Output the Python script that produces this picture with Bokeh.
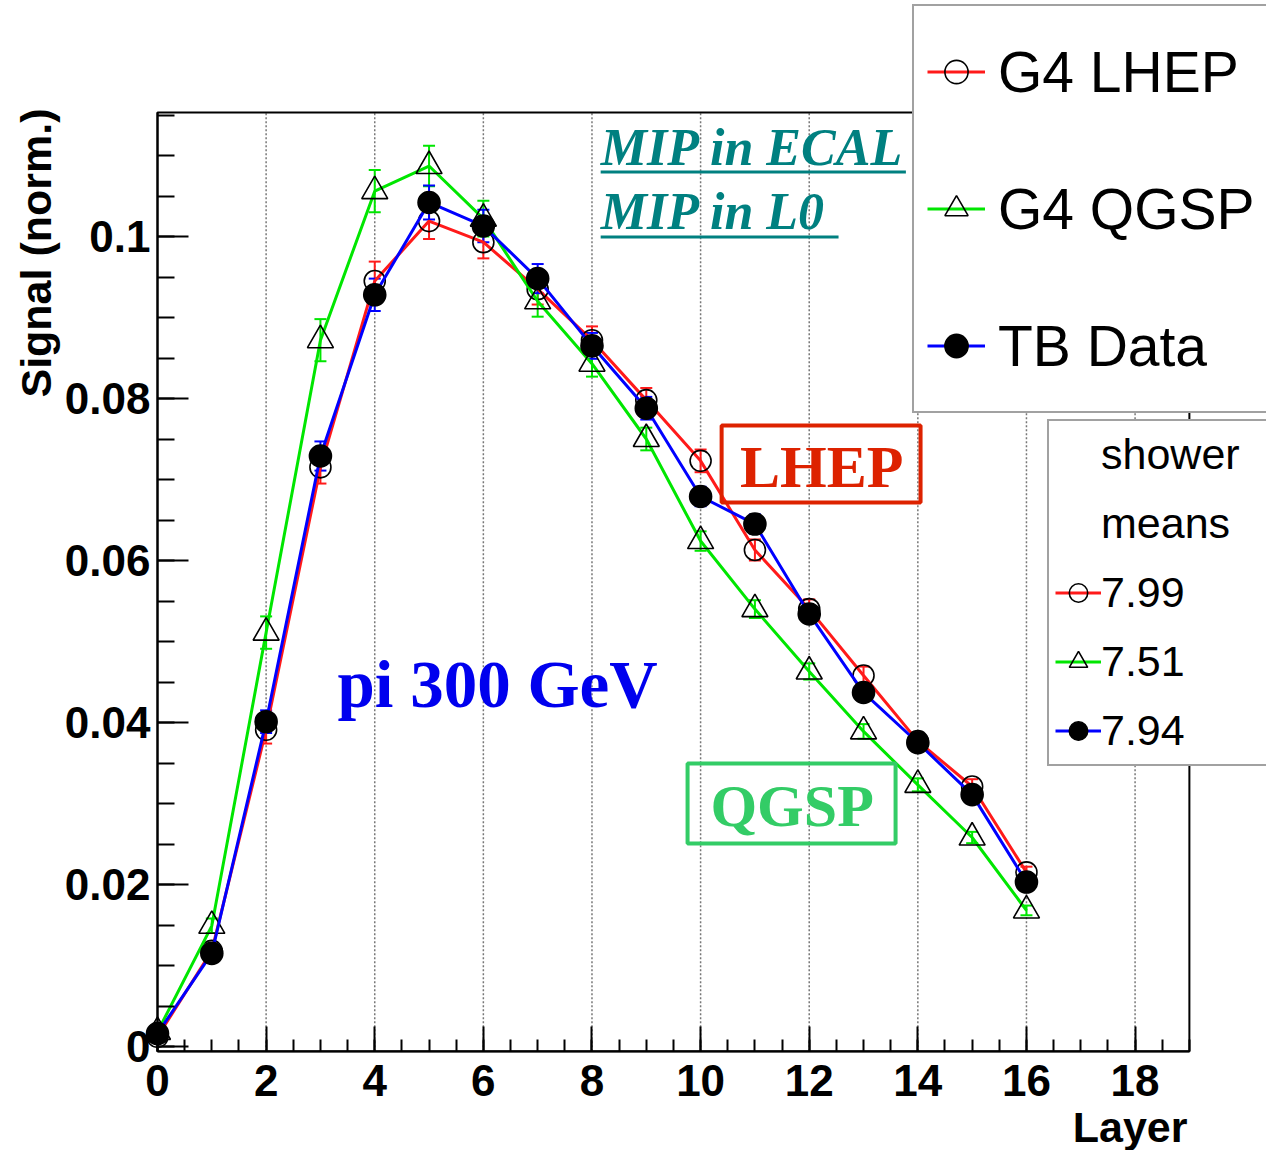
import numpy as np
from bokeh.plotting import figure
from bokeh.models import (Range1d, FixedTicker, CustomJSTickFormatter, ColumnDataSource,
                          Whisker, TeeHead, Legend, LegendItem, Label, BoxAnnotation)
from bokeh.embed import file_html
from bokeh.resources import INLINE

# ---------------- data ----------------
layers = list(range(17))
lhep = [0.0012, 0.0118, 0.0391, 0.0715, 0.0945, 0.1019, 0.0993, 0.0935, 0.0872,
        0.0798, 0.0723, 0.0613, 0.0540, 0.0458, 0.0377, 0.0321, 0.0215]
lhep_err = [0.0003, 0.0008, 0.0017, 0.0020, 0.0024, 0.0022, 0.0020, 0.0019, 0.0017,
            0.0015, 0.0014, 0.0013, 0.0012, 0.0011, 0.0010, 0.0009, 0.0007]
qgsp = [0.0018, 0.0149, 0.0511, 0.0872, 0.1056, 0.1087, 0.1022, 0.0920, 0.0843,
        0.0750, 0.0624, 0.0540, 0.0463, 0.0389, 0.0323, 0.0258, 0.0168]
qgsp_err = [0.0003, 0.0009, 0.0020, 0.0026, 0.0026, 0.0025, 0.0022, 0.0019, 0.0016,
            0.0014, 0.0012, 0.0011, 0.0010, 0.0009, 0.0008, 0.0007, 0.0006]
tb = [0.0016, 0.0115, 0.0401, 0.0729, 0.0928, 0.1042, 0.1013, 0.0948, 0.0865,
      0.0788, 0.0679, 0.0645, 0.0534, 0.0437, 0.0375, 0.0311, 0.0203]
tb_err = [0.0003, 0.0007, 0.0014, 0.0018, 0.0020, 0.0021, 0.0020, 0.0018, 0.0016,
          0.0014, 0.0012, 0.0012, 0.0010, 0.0009, 0.0008, 0.0007, 0.0006]

series_names = ["G4 LHEP", "G4 QGSP", "TB Data"]
shower_means = ["7.99", "7.51", "7.94"]
x_ticks = [0, 2, 4, 6, 8, 10, 12, 14, 16, 18]
y_ticks = [0, 0.02, 0.04, 0.06, 0.08, 0.1]

# plot box (in data units)
X0, X1 = 0, 19
Y0, Y1 = -0.0006, 0.1153

# ---------------- figure (frame covers the whole canvas) ----------------
W, H = 1266, 1150
PX_X, PX_Y = 54.31, 8100.0     # pixels per data unit
OX, OY = 157, 1046             # pixel position of data origin
p = figure(width=W, height=H,
           min_border_left=0, min_border_top=0, min_border_right=0, min_border_bottom=0,
           x_range=Range1d(-OX / PX_X, (W - OX) / PX_X),
           y_range=Range1d(-(H - OY) / PX_Y, OY / PX_Y),
           output_backend="svg", toolbar_location=None)
p.background_fill_color = "white"
p.border_fill_color = "white"
p.outline_line_color = None

xt = FixedTicker(ticks=x_ticks, minor_ticks=list(np.arange(0, 19.01, 0.5)))
yt = FixedTicker(ticks=y_ticks, minor_ticks=list(np.round(np.arange(0, 0.1151, 0.005), 4)))
p.xaxis.ticker = xt
p.yaxis.ticker = yt
p.yaxis.formatter = CustomJSTickFormatter(code="return Number(tick.toPrecision(6)).toString();")
p.xaxis.fixed_location = Y0
p.yaxis.fixed_location = X0
p.xaxis.bounds = (X0, X1)
p.yaxis.bounds = (Y0, Y1)

for ax in (p.xaxis, p.yaxis):
    ax.axis_line_color = "black"
    ax.axis_line_width = 2
    ax.major_tick_line_color = "black"
    ax.major_tick_line_width = 2
    ax.minor_tick_line_color = "black"
    ax.minor_tick_line_width = 2
    ax.major_tick_out = 0
    ax.minor_tick_out = 0
    ax.major_label_text_font = "Liberation Sans"
    ax.major_label_text_font_style = "bold"
    ax.major_label_text_font_size = "44px"
    ax.major_label_text_color = "black"
p.yaxis.major_tick_in = 31
p.yaxis.minor_tick_in = 17
p.xaxis.major_tick_in = 25
p.xaxis.minor_tick_in = 12
p.yaxis.major_label_standoff = 7
p.xaxis.major_label_standoff = 14

p.xgrid.visible = False
p.ygrid.visible = False

# dotted vertical grid lines at the major x ticks, limited to the plot box
grid_x = [t for t in x_ticks if t > X0]
grid_src = ColumnDataSource(dict(x=grid_x, lo=[Y0] * len(grid_x), hi=[Y1] * len(grid_x)))
p.add_layout(Whisker(source=grid_src, base="x", lower="lo", upper="hi",
                     line_color="#777777", line_dash="2 2", line_width=1.5,
                     lower_head=None, upper_head=None, level="underlay"))

# ---------------- series ----------------
def add_series(vals, errs, color, marker, size, fill):
    src = ColumnDataSource(dict(x=layers, y=vals,
                                up=[v + e for v, e in zip(vals, errs)],
                                lo=[v - e for v, e in zip(vals, errs)]))
    w = Whisker(source=src, base="x", upper="up", lower="lo",
                line_color=color, line_width=2,
                upper_head=TeeHead(size=12, line_color=color, line_width=2),
                lower_head=TeeHead(size=12, line_color=color, line_width=2))
    p.add_layout(w)
    rl = p.line("x", "y", source=src, line_color=color, line_width=3)
    rs = p.scatter("x", "y", source=src, marker=marker, size=size,
                   fill_color=fill, line_color="black", line_width=1.6)
    return rl, rs

rl1, rs1 = add_series(lhep, lhep_err, "#ff1a1a", "circle", 21, None)
rl2, rs2 = add_series(qgsp, qgsp_err, "#00e600", "triangle", 26, None)
rl3, rs3 = add_series(tb, tb_err, "#0000ff", "circle", 22, "black")

dummy = p.scatter(x=[], y=[], size=0, fill_alpha=0, line_alpha=0)

# plot box outline
p.add_layout(BoxAnnotation(left=X0, right=X1, bottom=Y0, top=Y1, fill_alpha=0,
                           line_color="black", line_alpha=1.0, line_width=2))

# ---------------- legends ----------------
leg1 = Legend(items=[LegendItem(label=series_names[0], renderers=[rl1, rs1]),
                     LegendItem(label=series_names[1], renderers=[rl2, rs2]),
                     LegendItem(label=series_names[2], renderers=[rl3, rs3])],
              location=(912, 737), orientation="vertical", padding=13, spacing=32,
              glyph_width=58, glyph_height=105, label_height=105, label_standoff=13,
              label_text_font="Liberation Sans", label_text_font_size="57px",
              label_text_color="black",
              border_line_color="#444444", border_line_width=2,
              background_fill_color="white", background_fill_alpha=1.0, margin=0)
p.add_layout(leg1)

leg2 = Legend(items=[LegendItem(label="shower", renderers=[dummy]),
                     LegendItem(label="means", renderers=[dummy]),
                     LegendItem(label=shower_means[0], renderers=[rl1, rs1]),
                     LegendItem(label=shower_means[1], renderers=[rl2, rs2]),
                     LegendItem(label=shower_means[2], renderers=[rl3, rs3])],
              location=(1047, 384), orientation="vertical", padding=6, spacing=14,
              glyph_width=46, glyph_height=55, label_height=55, label_standoff=0,
              label_width=160,
              label_text_font="Liberation Sans", label_text_font_size="43px",
              label_text_color="black",
              border_line_color="#444444", border_line_width=2,
              background_fill_color="white", background_fill_alpha=1.0, margin=0)
p.add_layout(leg2)

# ---------------- axis titles ----------------
p.add_layout(Label(x=35, y=H - 108, x_units="screen", y_units="screen", text="Signal (norm.)",
                   angle=np.pi / 2, text_align="right", text_baseline="middle",
                   text_font="Liberation Sans", text_font_style="bold",
                   text_font_size="43px", text_color="black"))
p.add_layout(Label(x=1187, y=H - 1126, x_units="screen", y_units="screen", text="Layer",
                   text_align="right", text_baseline="alphabetic",
                   text_font="Liberation Sans", text_font_style="bold",
                   text_font_size="43px", text_color="black"))

# ---------------- annotations ----------------
teal = "#008080"
p.add_layout(Label(x=8.16, y=0.11099, text="MIP in ECAL", text_align="left",
                   text_baseline="alphabetic", text_font="Liberation Serif",
                   text_font_style="bold italic", text_font_size="52px", text_color=teal))
p.add_layout(Label(x=8.16, y=0.10310, text="MIP in L0", text_align="left",
                   text_baseline="alphabetic", text_font="Liberation Serif",
                   text_font_style="bold italic", text_font_size="52px", text_color=teal))
p.add_layout(BoxAnnotation(left=8.16, right=13.78, top=0.10815, bottom=0.10778,
                           fill_color=teal, fill_alpha=1.0, line_alpha=0))
p.add_layout(BoxAnnotation(left=8.16, right=12.54, top=0.10012, bottom=0.09975,
                           fill_color=teal, fill_alpha=1.0, line_alpha=0))

p.add_layout(Label(x=3.315, y=0.04480, text="pi 300 GeV", text_align="left",
                   text_baseline="alphabetic", text_font="Liberation Serif",
                   text_font_style="bold", text_font_size="67px", text_color="#0000ee"))

red_lab = "#dd2200"
p.add_layout(BoxAnnotation(left=10.387, right=14.05, top=0.07667, bottom=0.06716,
                           fill_alpha=0, line_color=red_lab, line_alpha=1.0, line_width=4))
p.add_layout(Label(x=12.23, y=0.07150, text="LHEP", text_align="center",
                   text_baseline="alphabetic", text_font="Liberation Serif",
                   text_font_style="bold", text_font_size="60px", text_color=red_lab))

green_lab = "#33cc66"
p.add_layout(BoxAnnotation(left=9.76, right=13.59, top=0.03494, bottom=0.02506,
                           fill_alpha=0, line_color=green_lab, line_alpha=1.0, line_width=4))
p.add_layout(Label(x=11.685, y=0.02975, text="QGSP", text_align="center",
                   text_baseline="alphabetic", text_font="Liberation Serif",
                   text_font_style="bold", text_font_size="60px", text_color=green_lab))

open("out.html", "w").write(file_html(p, INLINE))
